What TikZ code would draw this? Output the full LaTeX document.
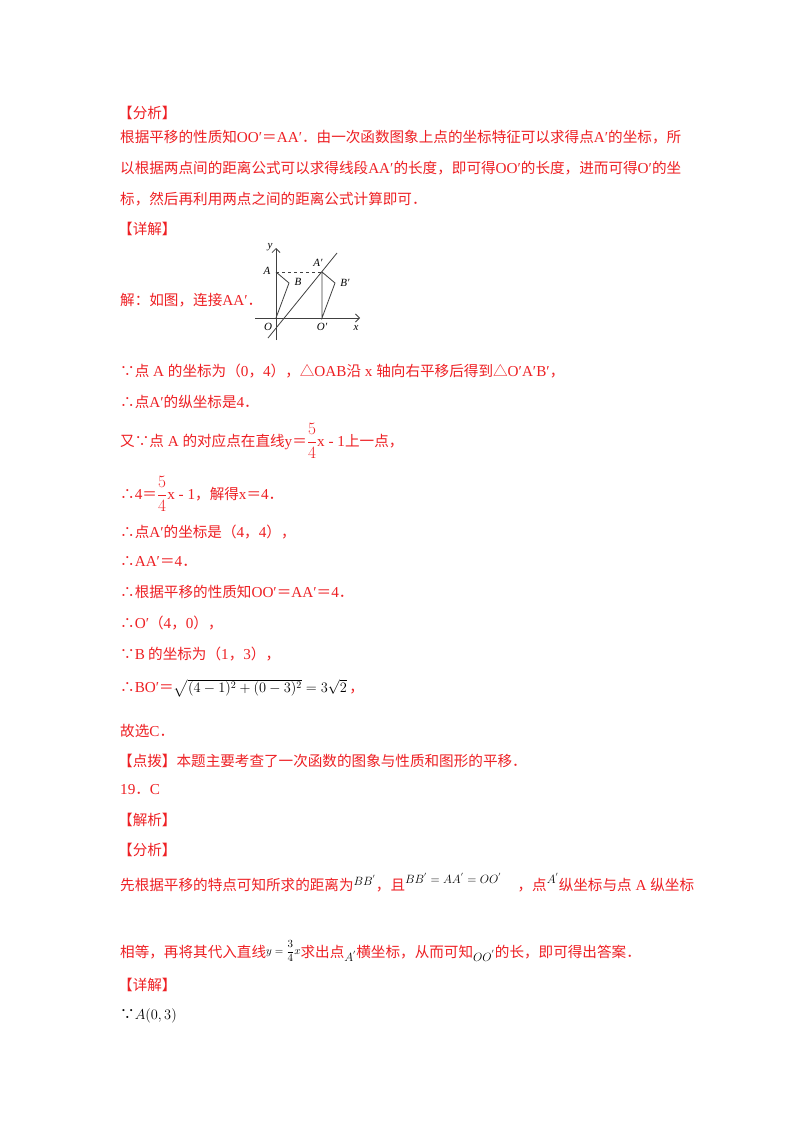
\documentclass[tikz,border=0pt]{standalone}
\usepackage{amsmath}
\usepackage{fontspec}
\setmainfont{Noto Sans CJK SC}[Scale=0.96]
\newfontfamily\lib{Liberation Serif}
\newcommand\la[1]{{\lib #1}}
\definecolor{rd}{RGB}{238,32,36}
\usetikzlibrary{arrows.meta}
\begin{document}
\begin{tikzpicture}[x=1pt,y=-1pt,
  ln/.style={anchor=west,inner sep=0pt,text=rd,font=\fontsize{15.2}{16}\selectfont},
  bk/.style={ln,text=black},
  lab/.style={inner sep=0pt,font=\lib\itshape\fontsize{11}{12}\selectfont},
  fig/.style={line width=0.8pt,black!75}]
\useasboundingbox[fill=white] (0,0) rectangle (800,1132);
\node[ln] (t1) at (118,113) {【分析】};
\node[ln] (t2) at (120,137) {根据平移的性质知\la{OO′}＝\la{AA′}．由一次函数图象上点的坐标特征可以求得点\la{A′}的坐标，所};
\node[ln] (t3) at (120,168) {以根据两点间的距离公式可以求得线段\la{AA′}的长度，即可得\la{OO′}的长度，进而可得\la{O′}的坐};
\node[ln] (t4) at (120,199) {标，然后再利用两点之间的距离公式计算即可．};
\node[ln] (t5) at (118,229) {【详解】};
\node[ln] (t6) at (120,300) {解：如图，连接\la{AA′}．};
% figure
\coordinate (O) at (276,318);
\coordinate (A) at (276,272);
\coordinate (B) at (289,283);
\coordinate (Ap) at (322,272);
\coordinate (Bp) at (335,283);
\coordinate (Op) at (322,318);
\coordinate (L1) at (268,338);
\coordinate (L2) at (337,253);
\coordinate (xs) at (255,318);
\coordinate (xe) at (360,318);
\coordinate (ys) at (276,340);
\coordinate (ye) at (276,248);
\draw[fig,-{Straight Barb[length=4pt]}] (xs) -- (xe);
\draw[fig,-{Straight Barb[length=4pt]}] (ys) -- (ye);
\draw[fig] (L1) -- (L2);
\draw[fig,dashed,line width=0.6pt] (A) -- (Ap);
\draw[fig] (A) -- (B) -- (O);
\draw[fig] (Ap) -- (Bp) -- (Op) -- (Ap);
\node[lab] (ly) at (270,247) {y};
\node[lab] (lA) at (267,271) {A};
\node[lab] (lB) at (298,282) {B};
\node[lab] (lAp) at (318,263) {A′};
\node[lab] (lBp) at (345,283) {B′};
\node[lab] (lO) at (268,327) {O};
\node[lab] (lOp) at (322,327) {O′};
\node[lab] (lx) at (356,328) {x};
% text
\node[ln] (t7) at (120,371) {∵点\la{ A }的坐标为（\la{0}，\la{4}），△\la{OAB}沿\la{ x }轴向右平移后得到△\la{O′A′B′}，};
\node[ln] (t8) at (120,402) {∴点\la{A′}的纵坐标是\la{4}．};
\node[ln] (t9) at (120,441) {又∵点\la{ A }的对应点在直线\la{y}＝{\fontsize{16}{16}\selectfont$\dfrac{5}{4}$}\la{x - 1}上一点，};
\node[ln] (t10) at (120,494) {∴\la{4}＝{\fontsize{16}{16}\selectfont$\dfrac{5}{4}$}\la{x - 1}，解得\la{x}＝\la{4}．};
\node[ln] (t11) at (120,532) {∴点\la{A′}的坐标是（\la{4}，\la{4}），};
\node[ln] (t12) at (120,561) {∴\la{AA′}＝\la{4}．};
\node[ln] (t13) at (120,592) {∴根据平移的性质知\la{OO′}＝\la{AA′}＝\la{4}．};
\node[ln] (t14) at (120,623) {∴\la{O′}（\la{4}，\la{0}），};
\node[ln] (t15) at (120,654) {∵\la{B} 的坐标为（\la{1}，\la{3}），};
\node[ln] (t16) at (120,688) {∴\la{BO′}＝\textcolor{black}{\fontsize{14}{14}\selectfont$\sqrt{(4-1)^2+(0-3)^2}=3\sqrt{2}$}\,，};
\node[ln] (t17) at (120,731) {故选\la{C}．};
\node[ln] (t18) at (118,761) {【点拨】本题主要考查了一次函数的图象与性质和图形的平移．};
\node[ln] (t19) at (120,790) {\la{19}．\la{C}};
\node[ln] (t20) at (118,820) {【解析】};
\node[ln] (t21) at (118,850) {【分析】};
\node[ln] (t22) at (120,883) {先根据平移的特点可知所求的距离为\raisebox{5pt}{\textcolor{black}{\fontsize{12}{12}\selectfont$BB^{'}$}}，且\raisebox{7pt}{\textcolor{black}{\fontsize{12}{12}\selectfont$BB^{'}=AA^{'}=OO^{'}$}}\hspace{16pt}，点\raisebox{7pt}{\textcolor{black}{\fontsize{12}{12}\selectfont$A^{'}$}}纵坐标与点\la{ A }纵坐标};
\node[ln] (t23) at (120,951) {相等，再将其代入直线\raisebox{3pt}{\textcolor{black}{\fontsize{11}{11}\selectfont$y=\dfrac{3}{4}x$}}求出点\raisebox{-4pt}{\textcolor{black}{\fontsize{12}{12}\selectfont$A^{'}$}}横坐标，从而可知\raisebox{-4pt}{\textcolor{black}{\fontsize{13}{13}\selectfont$OO^{'}$}}的长，即可得出答案．};
\node[ln] (t24) at (118,985) {【详解】};
\node[bk] (t25) at (120,1016) {∵\textcolor{black}{\fontsize{14}{14}\selectfont$A(0,3)$}};
\end{tikzpicture}
\end{document}
